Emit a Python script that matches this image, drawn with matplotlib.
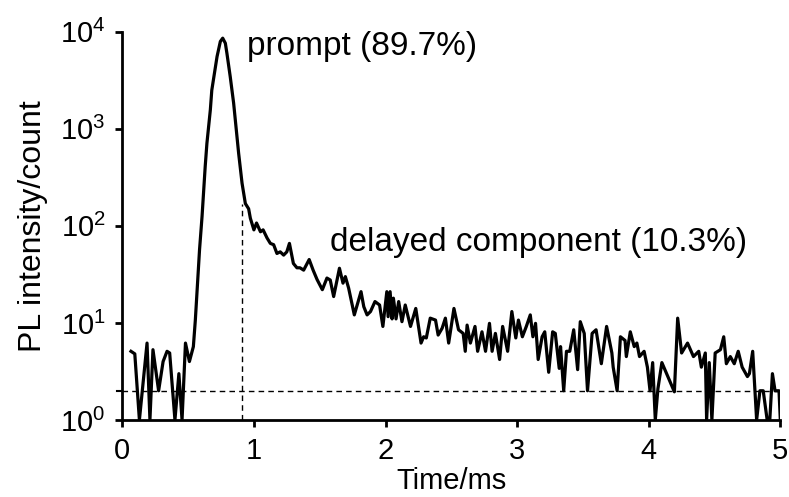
import numpy as np
import matplotlib.pyplot as plt

# time (ms) and PL counts
t_ms = [0.066, 0.095, 0.13, 0.188, 0.21, 0.233, 0.276, 0.31, 0.34, 0.36,
        0.40, 0.43, 0.454, 0.48, 0.51, 0.54, 0.555, 0.575, 0.587, 0.606,
        0.63, 0.643, 0.669, 0.68, 0.72, 0.745, 0.763, 0.783, 0.795, 0.82,
        0.846, 0.866, 0.884, 0.91, 0.935, 0.96, 0.973, 1.0, 1.02, 1.05,
        1.07, 1.10, 1.125, 1.15, 1.175, 1.2, 1.226, 1.25, 1.27, 1.30,
        1.327, 1.35, 1.378, 1.42, 1.45, 1.48, 1.52, 1.555, 1.58, 1.606,
        1.65, 1.677, 1.695, 1.72, 1.763, 1.814, 1.835, 1.86, 1.886, 1.92,
        1.955, 1.98, 2.01, 2.02, 2.035, 2.05, 2.06, 2.08, 2.10, 2.125,
        2.15, 2.19, 2.23, 2.27, 2.29, 2.31, 2.34, 2.38, 2.40, 2.43,
        2.455, 2.48, 2.52, 2.555, 2.59, 2.606, 2.62, 2.645, 2.68, 2.70,
        2.733, 2.76, 2.79, 2.81, 2.835, 2.867, 2.89, 2.928, 2.96, 2.99,
        3.01, 3.04, 3.07, 3.10, 3.12, 3.14, 3.16, 3.19, 3.21, 3.24,
        3.27, 3.29, 3.32, 3.33, 3.354, 3.375, 3.40, 3.43, 3.46, 3.48,
        3.51, 3.535, 3.57, 3.60, 3.64, 3.68, 3.72, 3.73, 3.76, 3.785,
        3.82, 3.83, 3.86, 3.89, 3.91, 3.93, 3.965, 3.99, 4.01, 4.03,
        4.05, 4.07, 4.10, 4.195, 4.22, 4.25, 4.295, 4.34, 4.38, 4.40,
        4.43, 4.44, 4.46, 4.48, 4.505, 4.545, 4.57, 4.59, 4.62, 4.65,
        4.68, 4.71, 4.75, 4.765, 4.79, 4.82, 4.845, 4.87, 4.9, 4.92,
        4.94, 4.96, 4.99, 5.0]
counts = [5.1, 4.8, 1.0, 6.2, 1.0, 5.3, 2.0, 4.0, 5.1, 4.9,
          1.0, 3.0, 1.0, 6.2, 4.0, 5.7, 10.7, 30, 57, 125,
          410, 710, 1570, 2500, 5560, 7950, 8600, 7630, 6000, 3460,
          1840, 980, 560, 275, 170, 150, 120, 91, 107, 87,
          91, 75, 66, 64, 52, 54, 50, 54, 66, 41,
          37, 37, 35, 45, 35, 28, 22, 29, 27.7, 18.7,
          36.6, 25.7, 30, 22.8, 12.1, 21, 14.7, 12.1, 13.1, 16.6,
          15.3, 9.2, 21, 11.6, 21, 11, 18, 11, 16.6, 10.3,
          15.3, 9.2, 14.1, 6.2, 7.2, 7.0, 11.2, 10.7, 7.5, 8.8,
          11.2, 6.2, 14.1, 8.5, 7.8, 5.1, 9.5, 6.2, 9.2, 5.1,
          8.1, 5.1, 9.9, 5.1, 7.8, 4.2, 9.2, 5.1, 13.1, 7.0,
          10.7, 7.2, 9.2, 12.1, 7.2, 9.9, 4.2, 7.2, 8.1, 3.1,
          8.1, 7.8, 3.4, 5.7, 2.0, 5.1, 5.1, 8.5, 3.3, 10.3,
          7.8, 2.0, 7.8, 8.5, 3.8, 9.2, 4.9, 3.5, 2.0, 7.2,
          6.6, 4.5, 8.1, 5.7, 6.2, 4.5, 5.1, 3.5, 2.0, 3.9,
          1.0, 2.1, 3.9, 1.95, 11.2, 4.9, 6.2, 4.5, 5.1, 3.5,
          4.9, 1.0, 3.9, 1.0, 4.9, 5.3, 7.2, 3.8, 4.5, 3.8,
          5.1, 3.5, 2.8, 3.0, 5.1, 1.0, 2.0, 2.0, 1.0, 1.0,
          3.0, 2.0, 2.0, 1.0]
assert len(t_ms) == len(counts)

baseline = 2.0      # horizontal dashed level (background)
t_split = 0.91      # prompt / delayed boundary
split_top = 170

plt.rcParams['font.family'] = ['Liberation Sans', 'DejaVu Sans']

fig = plt.figure(figsize=(7.89, 4.97), dpi=100)
ax = fig.add_axes([0.155, 0.155, 0.834, 0.781])

ax.plot(t_ms, counts, color='black', lw=2.3, solid_joinstyle='round')
ax.axhline(baseline, color='black', lw=1.0, ls=(0, (4, 3)))
ax.plot([t_split, t_split], [1, split_top], color='black', lw=1.0, ls=(0, (4, 3)))
# little mark where the background line meets the y axis
ax.plot([-0.04, 0], [baseline, baseline], color='black', lw=1.5, clip_on=False)

ax.set_yscale('log')
ax.set_ylim(1, 1e4)
ax.set_xlim(0, 5)
ax.set_xticks([0, 1, 2, 3, 4, 5])
ax.set_yticks([1, 10, 100, 1000, 10000])
ax.minorticks_off()

for s in ['top', 'right']:
    ax.spines[s].set_visible(False)
for s in ['left', 'bottom']:
    ax.spines[s].set_linewidth(2)
ax.tick_params(width=2, length=5, labelsize=21, direction='out', pad=7)

ax.set_xlabel('Time/ms', fontsize=21, labelpad=2)
ax.set_ylabel('PL intensity/count', fontsize=23, labelpad=9)

ax.text(0.95, 7000, 'prompt (89.7%)', fontsize=24, va='center', ha='left')
ax.text(1.58, 68, 'delayed component (10.3%)', fontsize=24, va='center', ha='left')

fig.savefig('out.png', dpi=100)
